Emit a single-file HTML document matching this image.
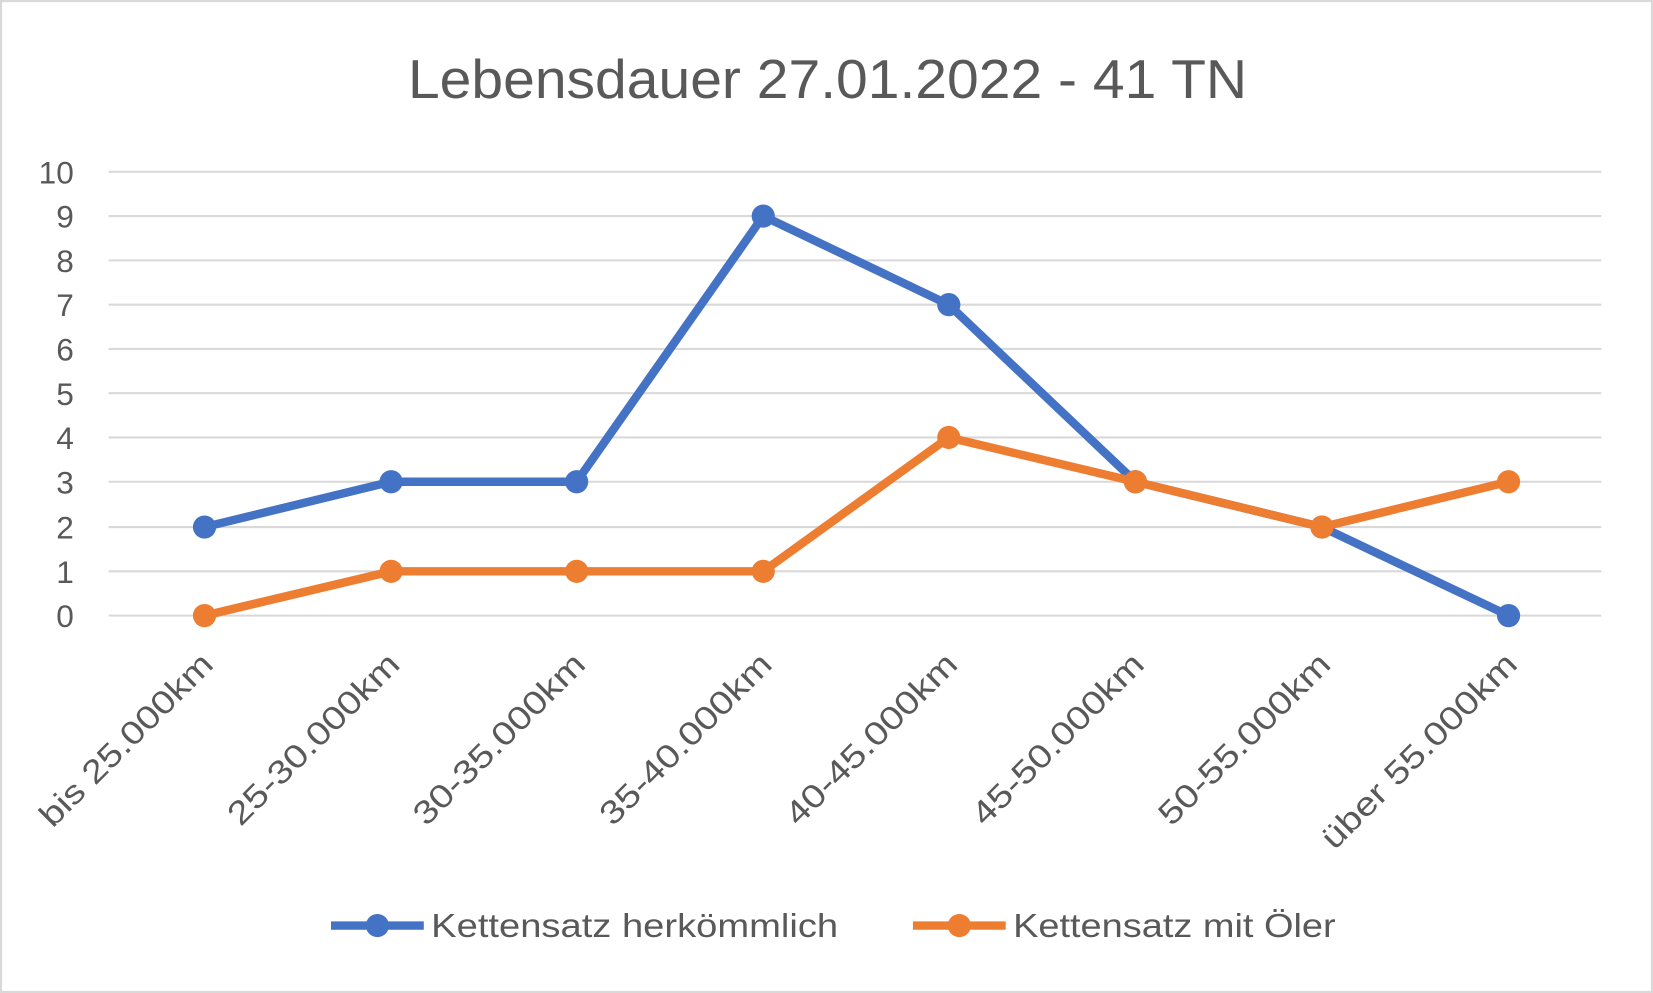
<!DOCTYPE html>
<html><head><meta charset="utf-8"><style>
html,body{margin:0;padding:0;background:#fff}
svg{display:block}
text{font-family:"Liberation Sans",sans-serif;fill:#595959}
</style></head><body>
<svg width="1653" height="993" viewBox="0 0 1568 942" preserveAspectRatio="none">
<rect x="1" y="1" width="1566" height="940" fill="#fff" stroke="#d9d9d9" stroke-width="2"/>
<text x="387" y="93" font-size="52" textLength="796" lengthAdjust="spacingAndGlyphs">Lebensdauer 27.01.2022 - 41 TN</text>
<g stroke="#d9d9d9" stroke-width="2">
<line x1="103" x2="1519" y1="584" y2="584"/><line x1="103" x2="1519" y1="542" y2="542"/>
<line x1="103" x2="1519" y1="500" y2="500"/><line x1="103" x2="1519" y1="457" y2="457"/>
<line x1="103" x2="1519" y1="415" y2="415"/><line x1="103" x2="1519" y1="373" y2="373"/>
<line x1="103" x2="1519" y1="331" y2="331"/><line x1="103" x2="1519" y1="289" y2="289"/>
<line x1="103" x2="1519" y1="247" y2="247"/><line x1="103" x2="1519" y1="205" y2="205"/>
<line x1="103" x2="1519" y1="163" y2="163"/>
</g>
<g font-size="30" text-anchor="end">
<text x="70" y="595">0</text><text x="70" y="553">1</text><text x="70" y="511">2</text>
<text x="70" y="468">3</text><text x="70" y="426">4</text><text x="70" y="384">5</text>
<text x="70" y="342">6</text><text x="70" y="300">7</text><text x="70" y="258">8</text>
<text x="70" y="216">9</text><text x="70" y="174">10</text>
</g>
<g font-size="31" text-anchor="end">
<text transform="translate(204,632) rotate(-45)" textLength="218" lengthAdjust="spacingAndGlyphs">bis 25.000km</text>
<text transform="translate(381,632) rotate(-45)" textLength="216" lengthAdjust="spacingAndGlyphs">25-30.000km</text>
<text transform="translate(557,632) rotate(-45)" textLength="216" lengthAdjust="spacingAndGlyphs">30-35.000km</text>
<text transform="translate(734,632) rotate(-45)" textLength="216" lengthAdjust="spacingAndGlyphs">35-40.000km</text>
<text transform="translate(910,632) rotate(-45)" textLength="216" lengthAdjust="spacingAndGlyphs">40-45.000km</text>
<text transform="translate(1087,632) rotate(-45)" textLength="216" lengthAdjust="spacingAndGlyphs">45-50.000km</text>
<text transform="translate(1264,632) rotate(-45)" textLength="216" lengthAdjust="spacingAndGlyphs">50-55.000km</text>
<text transform="translate(1441,632) rotate(-45)" textLength="248" lengthAdjust="spacingAndGlyphs">über 55.000km</text>
</g>
<polyline fill="none" stroke="#4472c4" stroke-width="8" stroke-linejoin="round" points="194,500 371,457 547,457 724,205 900,289 1077,457 1254,500 1431,584"/>
<g fill="#4472c4">
<circle cx="194" cy="500" r="11"/><circle cx="371" cy="457" r="11"/><circle cx="547" cy="457" r="11"/><circle cx="724" cy="205" r="11"/>
<circle cx="900" cy="289" r="11"/><circle cx="1077" cy="457" r="11"/><circle cx="1254" cy="500" r="11"/><circle cx="1431" cy="584" r="11"/>
</g>
<polyline fill="none" stroke="#ed7d31" stroke-width="8" stroke-linejoin="round" points="194,584 371,542 547,542 724,542 900,415 1077,457 1254,500 1431,457"/>
<g fill="#ed7d31">
<circle cx="194" cy="584" r="11"/><circle cx="371" cy="542" r="11"/><circle cx="547" cy="542" r="11"/><circle cx="724" cy="542" r="11"/>
<circle cx="900" cy="415" r="11"/><circle cx="1077" cy="457" r="11"/><circle cx="1254" cy="500" r="11"/><circle cx="1431" cy="457" r="11"/>
</g>
<line x1="314" x2="402" y1="878" y2="878" stroke="#4472c4" stroke-width="8"/>
<circle cx="358" cy="878" r="11" fill="#4472c4"/>
<text x="409" y="889" font-size="32" textLength="386" lengthAdjust="spacingAndGlyphs">Kettensatz herkömmlich</text>
<line x1="866" x2="954" y1="878" y2="878" stroke="#ed7d31" stroke-width="8"/>
<circle cx="910" cy="878" r="11" fill="#ed7d31"/>
<text x="961" y="889" font-size="32" textLength="306" lengthAdjust="spacingAndGlyphs">Kettensatz mit Öler</text>
</svg>
</body></html>
